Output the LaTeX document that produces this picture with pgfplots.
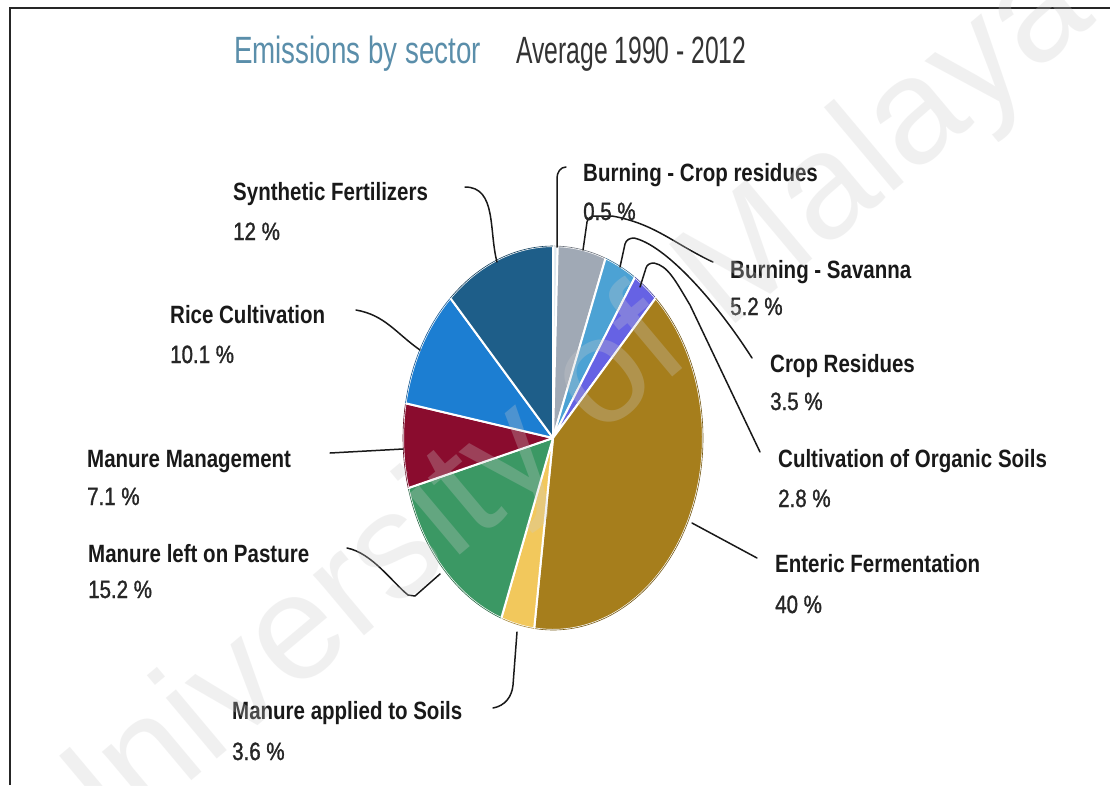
\documentclass[border=0pt]{standalone}
\usepackage{pgfplots}
\pgfplotsset{compat=1.18}
\usepackage{pgfplotstable}
\usepackage{fontspec}
\setmainfont{Liberation Sans}
\newfontfamily\titlefont[FakeStretch=0.73]{Liberation Sans}
\newfontfamily\avgfont[FakeStretch=0.65]{Liberation Sans}
\newfontfamily\lblfont[FakeStretch=0.82]{Liberation Sans}
\newfontfamily\pctfont[FakeStretch=0.82, FakeBold=1.2]{Liberation Sans}

\definecolor{c0}{HTML}{DDE7EF}
\definecolor{c1}{HTML}{A0A9B5}
\definecolor{c2}{HTML}{4CA2D4}
\definecolor{c3}{HTML}{6662E4}
\definecolor{c4}{HTML}{A67E1C}
\definecolor{c5}{HTML}{F2C85C}
\definecolor{c6}{HTML}{3B9864}
\definecolor{c7}{HTML}{8A0C2E}
\definecolor{c8}{HTML}{1C7ED2}
\definecolor{c9}{HTML}{1E5E89}
\definecolor{titleblue}{HTML}{5A8EAA}

% share of emissions by sector, clockwise from 12 o'clock
\pgfplotstableread[col sep=comma]{
sector,value
Burning - Crop residues,0.5
Burning - Savanna,5.2
Crop Residues,3.5
Cultivation of Organic Soils,2.8
Enteric Fermentation,40
Manure applied to Soils,3.6
Manure left on Pasture,15.2
Manure Management,7.1
Rice Cultivation,10.1
Synthetic Fertilizers,12
}\piedata

\newcommand{\lbl}[5]{%
  \node[anchor=base west, inner sep=0pt, font=\lblfont\bfseries\fontsize{25}{30}\selectfont, text=black!90] at (axis cs:#1,#2) {#4};
  \node[anchor=base west, inner sep=0pt, font=\pctfont\fontsize{25}{30}\selectfont, text=black!85] at (axis cs:#1,#3) {#5};
}

\begin{document}
\begin{tikzpicture}
\begin{axis}[
  x=1pt, y=1pt,
  xmin=0, xmax=1110, ymin=0, ymax=785,
  y dir=reverse,
  hide axis, clip=false,
]
\coordinate (TL) at (axis cs:0,0);
\coordinate (BR) at (axis cs:1110,785);
\fill[white] (axis cs:0,0) rectangle (axis cs:1110,785);

% pie wedges from the table
\pgfplotstablegetrowsof{\piedata}
\pgfmathtruncatemacro{\nrows}{\pgfplotsretval-1}
\def\cum{0}
\pgfplotsforeachungrouped \i in {0,...,\nrows}{%
  \pgfplotstablegetelem{\i}{value}\of\piedata
  \pgfmathsetmacro{\va}{90-3.6*\cum}%
  \pgfmathsetmacro{\cum}{\cum+\pgfplotsretval}%
  \pgfmathsetmacro{\vb}{90-3.6*\cum}%
  \edef\temp{%
    \noexpand\filldraw[fill=c\i, draw=white, line width=2pt, line join=round]
      (axis cs:553,438) -- ++(\va:150pt and 192pt)
      arc[start angle=\va, end angle=\vb, x radius=150pt, y radius=192pt] -- cycle;
    \noexpand\draw[c\i!70!black, line width=0.6pt]
      (axis cs:553,438) ++(\va:150pt and 192pt)
      arc[start angle=\va, end angle=\vb, x radius=150pt, y radius=192pt];
  }%
  \temp
}

% leader lines
\begin{scope}[black!90, line width=1.5pt, line cap=round, line join=round]
\draw (axis cs:465,187) to[out=0,in=105] (axis cs:497,262);
\draw (axis cs:356,310) to[out=-10,in=145] (axis cs:420,350);
\draw (axis cs:330,453) -- (axis cs:403,449);
\draw (axis cs:347,548) .. controls (axis cs:372,553) and (axis cs:392,582) .. (axis cs:408,595) -- (axis cs:415,596) -- (axis cs:440,574);
\draw (axis cs:517,632) -- (axis cs:513,685) to[out=-95,in=10] (axis cs:493,708);
\draw (axis cs:557,247) -- (axis cs:557,178) to[out=90,in=180] (axis cs:566,167);
\draw (axis cs:583,250) -- (axis cs:587,222) to[out=80,in=180] (axis cs:595,216) -- (axis cs:612,216) to[out=-10,in=155] (axis cs:713,262);
\draw (axis cs:620,267) -- (axis cs:625,244) to[out=75,in=180] (axis cs:634,238) .. controls (axis cs:665,245) and (axis cs:715,300) .. (axis cs:752,358);
\draw (axis cs:640,287) -- (axis cs:646,268) to[out=75,in=180] (axis cs:654,263) .. controls (axis cs:668,266) and (axis cs:675,280) .. (axis cs:690,305) -- (axis cs:760,452);
\draw (axis cs:692,523) -- (axis cs:757,558);
\end{scope}

% labels
\lbl{233}{200}{240}{Synthetic Fertilizers}{12 \%}
\lbl{170}{323}{363}{Rice Cultivation}{10.1 \%}
\lbl{87}{467}{505}{Manure Management}{7.1 \%}
\lbl{88}{562}{598}{Manure left on Pasture}{15.2 \%}
\lbl{232}{719}{760}{Manure applied to Soils}{3.6 \%}
\lbl{583}{181}{220}{Burning - Crop residues}{0.5 \%}
\lbl{730}{278}{315}{Burning - Savanna}{5.2 \%}
\lbl{770}{372}{410}{Crop Residues}{3.5 \%}
\lbl{778}{467}{507}{Cultivation of Organic Soils}{2.8 \%}
\lbl{775}{572}{613}{Enteric Fermentation}{40 \%}

% title
\node[anchor=base west, inner sep=0pt, font=\titlefont\fontsize{38}{40}\selectfont, text=titleblue] at (axis cs:234,63) {Emissions by sector};
\node[anchor=base west, inner sep=0pt, font=\avgfont\fontsize{38}{40}\selectfont, text=black!80] at (axis cs:516,63) {Average 1990 - 2012};

% frame
\draw[black!85, line width=2pt] (axis cs:10,785) -- (axis cs:10,8) -- (axis cs:1110,8);

% watermark
\node[rotate=40, font=\fontsize{150}{150}\selectfont, text=black!20, text opacity=0.28] at (axis cs:555,425) {University of Malaya};
\end{axis}
\pgfresetboundingbox
\useasboundingbox (TL) rectangle (BR);
\end{tikzpicture}
\end{document}
